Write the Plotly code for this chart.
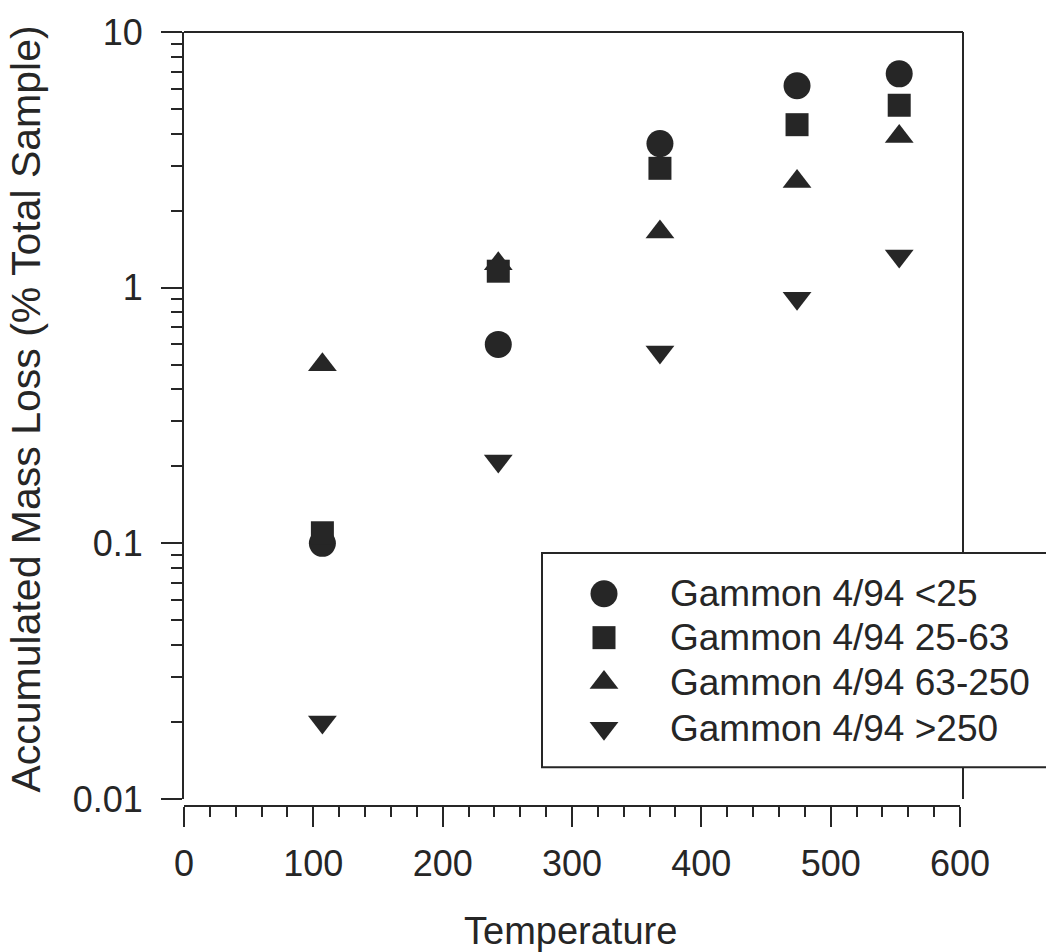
import plotly.graph_objects as go

# ---- data -------------------------------------------------------------
temperature = [107, 243, 368, 474, 553]
loss_lt25 = [0.10, 0.60, 3.66, 6.16, 6.86]
loss_25_63 = [0.11, 1.16, 2.93, 4.34, 5.17]
loss_63_250 = [0.50, 1.24, 1.65, 2.60, 3.90]
loss_gt250 = [0.020, 0.21, 0.56, 0.91, 1.33]

series_names = ["Gammon 4/94 <25", "Gammon 4/94 25-63",
                "Gammon 4/94 63-250", "Gammon 4/94 >250"]
series_values = [loss_lt25, loss_25_63, loss_63_250, loss_gt250]
series_symbols = ["circle", "square", "triangle-up", "triangle-down"]
series_sizes = [27, 23, 25, 25]

y_tickvals = [0.01, 0.1, 1, 10]
y_ticktext = ["0.01", "0.1", "1", "10"]
y_minor = [m * 10.0 ** e for e in (-2, -1, 0) for m in range(2, 10)]

# ---- geometry (pixels) -------------------------------------------------
W, H = 1046, 952
L, R = 184, 960          # x axis extent
T, B = 29, 806           # plot area top / offset x-axis line
YB = 799                 # bottom of the y axis
FRAME_R = 963
LEG_L, LEG_T, LEG_B = 542, 552, 767

INK = "#262626"
FONT = "Liberation Sans, Arial, Helvetica, sans-serif"


def px(p):
    return (p - L) / (R - L)


def py(p):
    return (B - p) / (B - T)


fig = go.Figure()

for name, vals, sym, size in zip(series_names, series_values,
                                 series_symbols, series_sizes):
    fig.add_trace(go.Scatter(
        x=temperature, y=vals, mode="markers", name=name,
        marker=dict(symbol=sym, size=size, color=INK, line=dict(width=0)),
        cliponaxis=False, showlegend=False,
    ))

# legend swatches on an overlay pixel-space axis pair
leg_rows = [593, 637, 682, 728]
leg_sym_x = 604
leg_text_x = 668
fig.add_trace(go.Scatter(
    x=[leg_sym_x] * 4, y=leg_rows, mode="markers",
    marker=dict(symbol=series_symbols, size=series_sizes, color=INK,
                opacity=1, line=dict(width=0)),
    xaxis="x2", yaxis="y2", showlegend=False, cliponaxis=False,
    hoverinfo="skip",
))

annotations = []
for name, yrow in zip(series_names, leg_rows):
    annotations.append(dict(
        x=px(leg_text_x), y=py(yrow), xref="paper", yref="paper",
        text=name, showarrow=False, xanchor="left", yanchor="middle",
        font=dict(family=FONT, size=37, color=INK),
    ))

annotations.append(dict(
    x=px((L + R) / 2 - 2), y=py(931), xref="paper", yref="paper",
    text="Temperature", showarrow=False, xanchor="center", yanchor="middle",
    font=dict(family=FONT, size=38, color=INK),
))
annotations.append(dict(
    x=px(26), y=py((T + YB) / 2 - 6), xref="paper", yref="paper",
    text="Accumulated Mass Loss (% Total Sample)", textangle=-90,
    showarrow=False, xanchor="center", yanchor="middle",
    font=dict(family=FONT, size=41, color=INK),
))

line_style = dict(color=INK, width=2)
shapes = [
    # top frame
    dict(type="line", xref="paper", yref="paper", layer="above",
         x0=0, x1=px(FRAME_R), y0=1, y1=1, line=line_style),
    # right frame, interrupted by the legend box
    dict(type="line", xref="paper", yref="paper", layer="above",
         x0=px(FRAME_R), x1=px(FRAME_R), y0=py(LEG_T), y1=1,
         line=line_style),
    dict(type="line", xref="paper", yref="paper", layer="above",
         x0=px(FRAME_R), x1=px(FRAME_R), y0=py(YB), y1=py(LEG_B),
         line=line_style),
    # legend box
    dict(type="rect", xref="paper", yref="paper", layer="above",
         x0=px(LEG_L), x1=px(1070), y0=py(LEG_B), y1=py(LEG_T),
         fillcolor="rgba(0,0,0,0)", line=line_style),
]

fig.update_layout(
    width=W, height=H,
    margin=dict(l=L, r=W - R, t=T, b=H - B, pad=0),
    paper_bgcolor="white", plot_bgcolor="rgba(0,0,0,0)",
    showlegend=False,
    font=dict(family=FONT, color=INK),
    annotations=annotations,
    shapes=shapes,
    xaxis=dict(
        range=[0, 600], anchor="free", position=0,
        tickmode="linear", tick0=0, dtick=100,
        showline=True, linecolor=INK, linewidth=2,
        ticks="outside", ticklen=20, tickwidth=2, tickcolor=INK,
        minor=dict(ticks="outside", dtick=20, tick0=0, ticklen=10,
                   tickwidth=2, tickcolor=INK, showgrid=False),
        showgrid=False, zeroline=False,
        tickfont=dict(family=FONT, size=36, color=INK),
        ticklabelstandoff=6,
    ),
    yaxis=dict(
        type="log", range=[-2, 1], domain=[py(YB), 1],
        tickmode="array", tickvals=y_tickvals, ticktext=y_ticktext,
        showline=True, linecolor=INK, linewidth=2,
        ticks="outside", ticklen=21, tickwidth=2, tickcolor=INK,
        minor=dict(ticks="outside", tickvals=y_minor, ticklen=11,
                   tickwidth=2, tickcolor=INK, showgrid=False),
        showgrid=False, zeroline=False,
        tickfont=dict(family=FONT, size=36, color=INK),
        ticklabelstandoff=11,
    ),
    xaxis2=dict(range=[L, R], overlaying="x", anchor="y2",
                visible=False, fixedrange=True),
    yaxis2=dict(range=[YB, T], overlaying="y", anchor="x2",
                visible=False, fixedrange=True),
)

fig.write_html("out.html")
